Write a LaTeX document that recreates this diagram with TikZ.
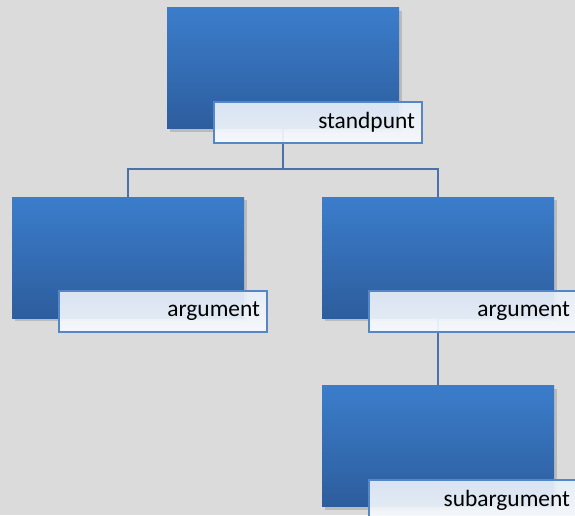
\documentclass[tikz,border=0pt]{standalone}
\usepackage{fontspec}
\setmainfont{Carlito}
\usetikzlibrary{shadows}
\pgfdeclarelayer{bg}
\pgfdeclarelayer{lines}
\pgfsetlayers{bg,lines,main}

\definecolor{boxtop}{HTML}{3B7DCB}
\definecolor{boxbot}{HTML}{2D5D9D}
\definecolor{rim}{HTML}{5587C6}
\definecolor{wire}{HTML}{4A72A8}
\definecolor{paper}{HTML}{DBDBDB}

\tikzset{
  block/.style={rectangle, inner sep=0pt, minimum width=232pt, minimum height=121pt,
    top color=boxtop, bottom color=boxbot,
    drop shadow={opacity=0.35, shadow xshift=3pt, shadow yshift=-3pt}},
  tag/.style={rectangle, draw=rim, line width=2pt, anchor=north west,
    minimum height=41pt, text width=194pt, inner xsep=7pt, inner ysep=0pt, align=right,
    top color=white!88!boxtop, bottom color=white!96!boxtop, fill opacity=0.92, text opacity=1,
    font=\fontsize{23.4}{28}\selectfont},
  wire/.style={draw=wire, line width=1.6pt}
}

\begin{document}
\begin{tikzpicture}[x=1pt,y=1pt]
  \begin{pgfonlayer}{bg}
    \fill[paper] (0,0) rectangle (575,515);
  \end{pgfonlayer}
  \useasboundingbox (0,0) rectangle (575,515);
  % boxes
  \node[block] (stand) at (283,446.5) {};
  \node[block] (argl) at (128,257.5) {};
  \node[block] (argr) at (438,257.5) {};
  \node[block] (sub) at (438,69) {};
  % labels
  \node[tag] (standlbl) at (213,414) {standpunt};
  \node[tag] (argllbl) at (58,225) {argument};
  \node[tag] (argrlbl) at (368,225) {argument};
  \node[tag] (sublbl) at (368,36) {subargument};
  % connectors
  \begin{pgfonlayer}{lines}
    \coordinate (split) at (283,346);
    \draw[wire] (stand.south) -- (split) -| (argl.north);
    \draw[wire] (split) -| (argr.north);
    \draw[wire] (argr.south) -- (sub.north);
  \end{pgfonlayer}
\end{tikzpicture}
\end{document}
